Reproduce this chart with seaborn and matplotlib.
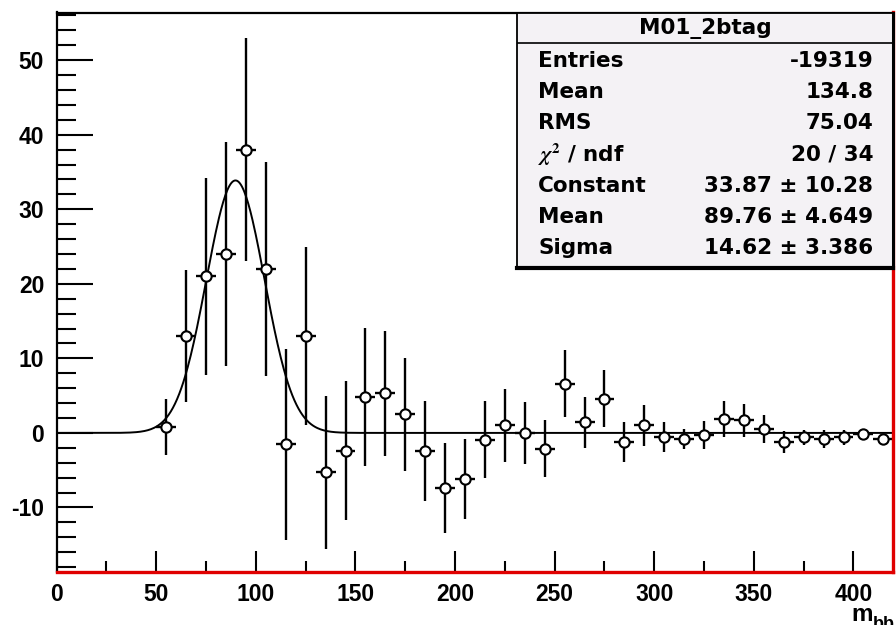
import numpy as np
import pandas as pd
import matplotlib
matplotlib.use('Agg')
import matplotlib.pyplot as plt
import seaborn as sns
from matplotlib.ticker import MultipleLocator

# ---- data ----
bin_centers = [55, 65, 75, 85, 95, 105, 115, 125, 135, 145, 155, 165, 175, 185,
               195, 205, 215, 225, 235, 245, 255, 265, 275, 285, 295, 305, 315,
               325, 335, 345, 355, 365, 375, 385, 395, 405, 415]
counts = [0.8, 13.0, 21.0, 24.0, 38.0, 22.0, -1.5, 13.0, -5.3, -2.4, 4.8, 5.3,
          2.5, -2.4, -7.4, -6.2, -0.9, 1.0, 0.0, -2.1, 6.6, 1.4, 4.6, -1.2, 1.0,
          -0.5, -0.8, -0.3, 1.9, 1.7, 0.5, -1.2, -0.6, -0.8, -0.6, -0.1, -0.8]
errors = [3.7, 8.8, 13.2, 15.0, 15.0, 14.3, 12.8, 12.0, 10.3, 9.3, 9.3, 8.4,
          7.6, 6.7, 6.0, 5.4, 5.2, 4.9, 4.2, 3.8, 4.5, 3.4, 3.8, 2.7, 2.8,
          2.0, 1.3, 1.9, 2.4, 2.2, 1.9, 1.5, 1.0, 1.2, 1.0, 0.5, 0.5]
bin_half_width = 5

fit_constant = 33.87
fit_mean = 89.76
fit_sigma = 14.62

hist_title = 'M01_2btag'
stat_labels = ['Entries', 'Mean', 'RMS', r'$\chi^{2}$ / ndf', 'Constant', 'Mean', 'Sigma']
stat_values = ['-19319', '134.8', '75.04', '20 / 34',
               '33.87 ± 10.28', '89.76 ± 4.649', '14.62 ± 3.386']

x_ticks = [0, 50, 100, 150, 200, 250, 300, 350, 400]
y_ticks = [-10, 0, 10, 20, 30, 40, 50]

# ---- style ----
sns.set_style('white')
plt.rcParams['font.family'] = ['Liberation Sans', 'DejaVu Sans']
plt.rcParams['font.weight'] = 'bold'
plt.rcParams['mathtext.fontset'] = 'stix'
plt.rcParams['axes.unicode_minus'] = False
plt.rcParams['text.color'] = 'black'

W, H = 896, 625
fig = plt.figure(figsize=(W / 100, H / 100), dpi=100)
fig.patch.set_facecolor('white')

ax_l, ax_r, ax_t, ax_b = 56.7, 893.3, 12.5, 572.3
ax = fig.add_axes([ax_l / W, 1 - ax_b / H, (ax_r - ax_l) / W, (ax_b - ax_t) / H])
ax.set_facecolor('white')

df = pd.DataFrame({'x': bin_centers, 'y': counts, 'err': errors})

# error bars
ax.errorbar(df['x'], df['y'], xerr=bin_half_width, yerr=df['err'], fmt='none',
            ecolor='black', elinewidth=1.7, capsize=0, zorder=2)

# fit curve
xs = np.linspace(0, 420, 800)
fit_df = pd.DataFrame({'x': xs,
                       'y': fit_constant * np.exp(-0.5 * ((xs - fit_mean) / fit_sigma) ** 2)})
sns.lineplot(data=fit_df, x='x', y='y', color='black', linewidth=1.4, ax=ax, zorder=2.5)

# markers
sns.scatterplot(data=df, x='x', y='y', marker='o', s=55, facecolor='white',
                edgecolor='black', linewidth=1.5, ax=ax, zorder=3)

ax.set_xlim(0, 420)
ax.set_ylim(-18.7, 56.4)
ax.set_xlabel('')
ax.set_ylabel('')
ax.set_xticks(x_ticks)
ax.set_yticks(y_ticks)
ax.xaxis.set_minor_locator(MultipleLocator(25))
ax.yaxis.set_minor_locator(MultipleLocator(2))
ax.tick_params(axis='y', which='major', direction='in', length=26, width=1.5,
               left=True, right=False, pad=9, labelsize=16.5, colors='black')
ax.tick_params(axis='y', which='minor', direction='in', length=14, width=1.5,
               left=True, right=False, colors='black')
ax.tick_params(axis='x', which='major', direction='in', length=15, width=1.5,
               bottom=True, top=False, pad=8, labelsize=16.5, colors='black')
ax.tick_params(axis='x', which='minor', direction='in', length=8, width=1.5,
               bottom=True, top=False, colors='black')
for lab in ax.get_xticklabels() + ax.get_yticklabels():
    lab.set_fontweight('bold')
ax.grid(False)

for side in ['left', 'top']:
    ax.spines[side].set_color('black')
    ax.spines[side].set_linewidth(1.6)
for side in ['bottom', 'right']:
    ax.spines[side].set_color('#e00000')
    ax.spines[side].set_linewidth(2.4)
ax.spines['bottom'].set_zorder(5)

# axis title m_bb
fig.text(851 / W, 1 - 621 / H, 'm', fontsize=17.5, fontweight='bold', ha='left',
         va='baseline', color='black')
fig.text(873 / W, 1 - 629 / H, 'bb', fontsize=13, fontweight='bold', ha='left',
         va='baseline', color='black')

# ---- stats box ----
bx_l, bx_r, bx_t, bx_b = 516.7, 893.0, 13.3, 268.0
bax = fig.add_axes([bx_l / W, 1 - bx_b / H, (bx_r - bx_l) / W, (bx_b - bx_t) / H])
bax.set_facecolor('#f4f2f5')
bax.set_xlim(0, 1)
bax.set_ylim(0, 1)
bax.set_xticks([])
bax.set_yticks([])
for side in bax.spines:
    bax.spines[side].set_color('black')
    bax.spines[side].set_linewidth(1.3)
bax.spines['bottom'].set_linewidth(3.0)
bax.spines['right'].set_linewidth(2.2)

bh = bx_b - bx_t
def ypos(px):
    return (bx_b - px) / bh

stat_font = ['DejaVu Sans']
bax.axhline(ypos(43.3), color='black', linewidth=1.2)
bax.text(0.5, ypos(28.5), hist_title, ha='center', va='center', fontsize=15.5,
         fontweight='bold', family=stat_font, color='black')
for i, (lab, val) in enumerate(zip(stat_labels, stat_values)):
    yc = ypos(61 + 31.2 * i)
    bax.text(0.057, yc, lab, ha='left', va='center', fontsize=15.5,
             fontweight='bold', family=stat_font, color='black')
    bax.text(0.948, yc, val, ha='right', va='center', fontsize=15.5,
             fontweight='bold', family=stat_font, color='black')

fig.savefig('out.png', dpi=100, facecolor='white')
